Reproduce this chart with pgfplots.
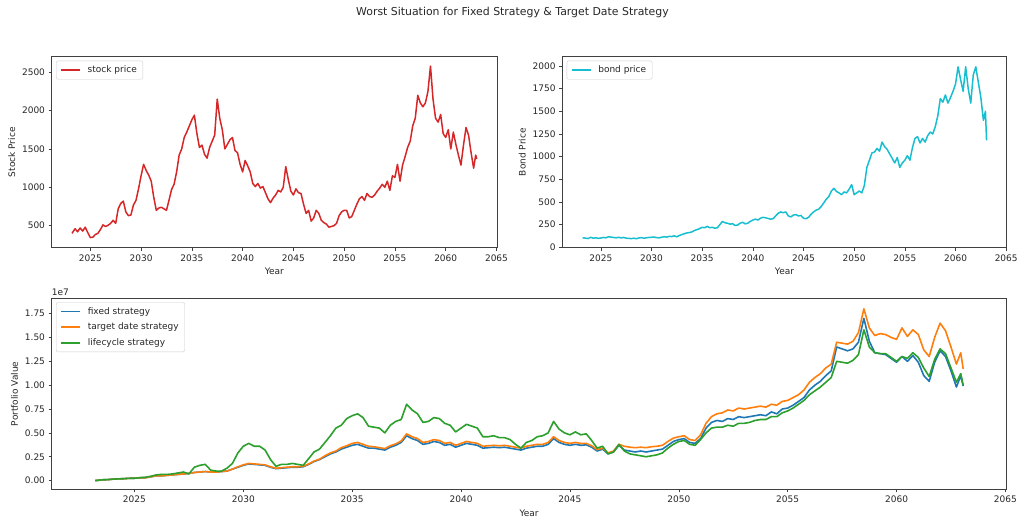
\documentclass[border=0pt]{standalone}
\usepackage{fontspec}
\setmainfont{DejaVu Sans}
\usepackage{pgfplots}
\usepackage{pgfplotstable}
\pgfplotsset{compat=1.18}
\definecolor{tabred}{HTML}{D62728}
\definecolor{tabcyan}{HTML}{17BECF}
\definecolor{tabblue}{HTML}{1F77B4}
\definecolor{taborange}{HTML}{FF7F0E}
\definecolor{tabgreen}{HTML}{2CA02C}

\pgfplotstableread{
year stock bond
2023.20 400 105
2023.50 460 100
2023.75 420 96
2024.00 470 110
2024.25 430 100
2024.50 480 104
2024.75 410 98
2025.00 345 102
2025.25 350 108
2025.50 385 104
2025.75 400 115
2026.00 450 112
2026.25 510 108
2026.50 490 104
2026.75 505 110
2027.00 530 103
2027.25 570 108
2027.50 530 100
2027.75 720 98
2028.00 790 95
2028.25 820 100
2028.50 680 94
2028.75 630 102
2029.00 640 106
2029.25 770 100
2029.50 830 104
2029.75 980 108
2030.00 1150 110
2030.25 1300 113
2030.50 1220 106
2030.75 1160 104
2031.00 1080 110
2031.25 870 116
2031.50 700 112
2031.75 730 120
2032.00 740 118
2032.25 720 126
2032.50 700 115
2032.75 830 130
2033.00 970 140
2033.25 1040 150
2033.50 1200 158
2033.75 1420 162
2034.00 1500 170
2034.25 1650 185
2034.50 1720 195
2034.75 1800 205
2035.00 1880 220
2035.25 1940 215
2035.50 1700 230
2035.75 1520 215
2036.00 1550 220
2036.25 1430 210
2036.50 1380 215
2036.75 1520 250
2037.00 1600 285
2037.25 1680 270
2037.50 2150 265
2037.75 1900 255
2038.00 1750 260
2038.25 1500 240
2038.50 1560 245
2038.75 1620 265
2039.00 1650 275
2039.25 1480 258
2039.50 1450 265
2039.75 1300 285
2040.00 1200 300
2040.25 1350 310
2040.50 1280 300
2040.75 1200 320
2041.00 1050 330
2041.25 1010 325
2041.50 1050 318
2041.75 990 310
2042.00 1010 315
2042.25 930 345
2042.50 850 375
2042.75 800 390
2043.00 860 380
2043.25 900 390
2043.50 960 345
2043.75 940 335
2044.00 1000 355
2044.25 1270 360
2044.50 1100 345
2044.75 950 350
2045.00 900 320
2045.25 980 315
2045.50 930 330
2045.75 920 365
2046.00 780 390
2046.25 660 410
2046.50 700 420
2046.75 560 450
2047.00 600 490
2047.25 700 530
2047.50 660 560
2047.75 570 620
2048.00 540 650
2048.25 520 615
2048.50 480 600
2048.75 490 580
2049.00 500 610
2049.25 530 600
2049.50 630 640
2049.75 680 690
2050.00 700 580
2050.25 700 600
2050.50 600 620
2050.75 620 600
2051.00 700 680
2051.25 780 880
2051.50 850 960
2051.75 880 1040
2052.00 830 1050
2052.25 920 1090
2052.50 880 1060
2052.75 870 1160
2053.00 900 1110
2053.25 950 1080
2053.50 990 1030
2053.75 1040 980
2054.00 1000 930
2054.25 1080 990
2054.50 960 880
2054.75 1150 930
2055.00 1130 960
2055.25 1300 1010
2055.50 1080 960
2055.75 1290 1100
2056.00 1400 1200
2056.25 1520 1220
2056.50 1600 1150
2056.75 1800 1200
2057.00 1900 1160
2057.25 2200 1230
2057.50 2100 1270
2057.75 2050 1250
2058.00 2100 1330
2058.25 2250 1450
2058.50 2580 1640
2058.75 2150 1600
2059.00 1900 1680
2059.25 1850 1590
2059.50 1950 1650
2059.75 1700 1720
2060.00 1650 1800
2060.25 1750 1990
2060.50 1500 1850
2060.75 1720 1720
2061.00 1560 1990
2061.25 1420 1750
2061.50 1290 1590
2061.75 1550 1900
2062.00 1780 1990
2062.25 1680 1820
2062.50 1450 1650
2062.75 1250 1400
2062.95 1420 1500
2063.06 1370 1180
}\pricetab

\pgfplotstableread{
year fixed target life
2023.20 0.000 0.000 0.000
2023.50 0.008 0.008 0.008
2023.75 0.010 0.010 0.010
2024.00 0.015 0.015 0.015
2024.25 0.018 0.018 0.018
2024.50 0.020 0.020 0.020
2024.75 0.024 0.024 0.024
2025.00 0.025 0.025 0.025
2025.25 0.030 0.030 0.030
2025.50 0.030 0.030 0.035
2025.75 0.040 0.040 0.045
2026.00 0.050 0.050 0.060
2026.25 0.050 0.050 0.065
2026.50 0.055 0.055 0.065
2026.75 0.060 0.060 0.070
2027.00 0.065 0.065 0.080
2027.25 0.070 0.070 0.090
2027.50 0.075 0.075 0.070
2027.75 0.085 0.085 0.140
2028.00 0.090 0.090 0.160
2028.25 0.095 0.095 0.170
2028.50 0.090 0.090 0.110
2028.75 0.090 0.090 0.100
2029.00 0.095 0.095 0.100
2029.25 0.100 0.100 0.130
2029.50 0.120 0.120 0.180
2029.75 0.140 0.145 0.290
2030.00 0.160 0.165 0.360
2030.25 0.175 0.180 0.390
2030.50 0.170 0.175 0.360
2030.75 0.165 0.170 0.360
2031.00 0.160 0.165 0.320
2031.25 0.140 0.145 0.220
2031.50 0.125 0.130 0.150
2031.75 0.130 0.135 0.170
2032.00 0.135 0.140 0.170
2032.25 0.140 0.145 0.180
2032.50 0.140 0.145 0.170
2032.75 0.145 0.150 0.160
2033.00 0.170 0.175 0.230
2033.25 0.200 0.205 0.300
2033.50 0.220 0.225 0.330
2033.75 0.250 0.260 0.400
2034.00 0.280 0.290 0.470
2034.25 0.300 0.310 0.550
2034.50 0.330 0.345 0.580
2034.75 0.350 0.365 0.650
2035.00 0.370 0.390 0.680
2035.25 0.380 0.400 0.700
2035.50 0.360 0.380 0.660
2035.75 0.340 0.360 0.570
2036.00 0.340 0.355 0.560
2036.25 0.330 0.345 0.550
2036.50 0.320 0.335 0.500
2036.75 0.350 0.365 0.580
2037.00 0.370 0.385 0.620
2037.25 0.400 0.415 0.640
2037.50 0.470 0.490 0.800
2037.75 0.440 0.460 0.740
2038.00 0.420 0.440 0.700
2038.25 0.380 0.400 0.610
2038.50 0.390 0.410 0.620
2038.75 0.410 0.430 0.660
2039.00 0.400 0.420 0.650
2039.25 0.370 0.390 0.600
2039.50 0.380 0.400 0.580
2039.75 0.350 0.370 0.510
2040.00 0.370 0.390 0.550
2040.25 0.390 0.410 0.590
2040.50 0.380 0.400 0.570
2040.75 0.370 0.390 0.550
2041.00 0.340 0.360 0.460
2041.25 0.345 0.365 0.460
2041.50 0.350 0.370 0.470
2041.75 0.345 0.365 0.450
2042.00 0.350 0.370 0.450
2042.25 0.340 0.360 0.430
2042.50 0.330 0.350 0.380
2042.75 0.320 0.340 0.340
2043.00 0.340 0.360 0.400
2043.25 0.350 0.370 0.420
2043.50 0.360 0.380 0.460
2043.75 0.360 0.380 0.470
2044.00 0.380 0.400 0.500
2044.25 0.440 0.460 0.620
2044.50 0.400 0.420 0.540
2044.75 0.380 0.400 0.500
2045.00 0.370 0.390 0.480
2045.25 0.380 0.400 0.510
2045.50 0.370 0.390 0.480
2045.75 0.375 0.390 0.490
2046.00 0.350 0.365 0.420
2046.25 0.310 0.325 0.340
2046.50 0.330 0.340 0.360
2046.75 0.280 0.290 0.280
2047.00 0.300 0.310 0.300
2047.25 0.370 0.380 0.380
2047.50 0.320 0.360 0.310
2047.75 0.310 0.350 0.280
2048.00 0.300 0.345 0.270
2048.25 0.310 0.350 0.260
2048.50 0.300 0.345 0.250
2048.75 0.310 0.355 0.260
2049.00 0.320 0.360 0.270
2049.25 0.330 0.370 0.290
2049.50 0.370 0.410 0.340
2049.75 0.410 0.445 0.380
2050.00 0.430 0.460 0.410
2050.25 0.440 0.470 0.420
2050.50 0.400 0.430 0.380
2050.75 0.390 0.420 0.370
2051.00 0.440 0.480 0.430
2051.25 0.550 0.600 0.500
2051.50 0.610 0.670 0.550
2051.75 0.630 0.700 0.560
2052.00 0.620 0.710 0.560
2052.25 0.650 0.740 0.580
2052.50 0.640 0.730 0.570
2052.75 0.670 0.760 0.600
2053.00 0.660 0.750 0.600
2053.25 0.670 0.760 0.610
2053.50 0.680 0.770 0.630
2053.75 0.690 0.780 0.640
2054.00 0.680 0.770 0.640
2054.25 0.720 0.800 0.670
2054.50 0.700 0.790 0.670
2054.75 0.750 0.830 0.710
2055.00 0.760 0.840 0.730
2055.25 0.790 0.870 0.760
2055.50 0.830 0.900 0.800
2055.75 0.870 0.950 0.840
2056.00 0.950 1.030 0.900
2056.25 1.000 1.080 0.940
2056.50 1.040 1.120 0.980
2056.75 1.100 1.180 1.030
2057.00 1.150 1.220 1.080
2057.25 1.400 1.450 1.250
2057.50 1.380 1.440 1.240
2057.75 1.360 1.430 1.230
2058.00 1.380 1.460 1.260
2058.25 1.450 1.550 1.320
2058.50 1.700 1.800 1.580
2058.75 1.460 1.600 1.400
2059.00 1.340 1.520 1.340
2059.25 1.330 1.540 1.330
2059.50 1.320 1.530 1.330
2059.75 1.280 1.500 1.290
2060.00 1.240 1.480 1.250
2060.25 1.300 1.600 1.300
2060.50 1.250 1.510 1.280
2060.75 1.310 1.580 1.340
2061.00 1.240 1.530 1.290
2061.25 1.100 1.370 1.180
2061.50 1.040 1.300 1.090
2061.75 1.240 1.500 1.270
2062.00 1.360 1.650 1.380
2062.25 1.300 1.570 1.330
2062.50 1.150 1.400 1.180
2062.75 0.980 1.220 1.030
2062.95 1.100 1.340 1.120
2063.06 0.990 1.170 1.000
}\porttab

\pgfplotsset{
  mplstyle/.style={
    scale only axis,
    anchor=south west,
    xmin=2021.2, xmax=2065.05,
    xtick={2025,2030,...,2065},
    tick pos=left,
    tick align=outside,
    major tick length=3.2pt,
    every tick/.style={black!75, line width=0.6pt},
    axis line style={black!75, line width=0.7pt},
    tick label style={font=\fontsize{9}{10}\selectfont, text=black!85},
    label style={font=\fontsize{9}{10}\selectfont, text=black!85},
    /pgf/number format/assume math mode=true,
    /pgf/number format/1000 sep={},
    legend cell align=left,
    legend style={at={(0,1)}, anchor=north west, xshift=4.3pt, yshift=-4pt,
      draw=black!20, rounded corners=2pt, fill=white, fill opacity=0.8,
      text opacity=1, font=\fontsize{9}{10}\selectfont, text=black!85,
      inner xsep=4pt, inner ysep=3pt, row sep=3.2pt},
    legend image code/.code={\draw[##1] (0pt,0pt) -- (19pt,0pt); \path (24pt,0pt);},
  }
}

\begin{document}
\begin{tikzpicture}[x=1pt,y=1pt]
\useasboundingbox (0,0) rectangle (1024,526);
\node[font=\fontsize{10.9}{12}\selectfont, text=black!85] at (512.5,513) {Worst Situation for Fixed Strategy \& Target Date Strategy};

\begin{axis}[mplstyle, at={(51.7pt,278.3pt)}, width=445.3pt, height=191pt,
  ymin=213, ymax=2703, ytick={500,1000,...,2500},
  xlabel={Year}, ylabel={Stock Price}]
\addplot[tabred, line width=1.5pt, line join=round] table[x=year, y=stock] {\pricetab};
\addlegendentry{stock price}
\end{axis}

\begin{axis}[mplstyle, at={(562.3pt,278.3pt)}, width=444.4pt, height=191pt,
  ymin=-5, ymax=2102, ytick={0,250,...,2000},
  xlabel={Year}, ylabel={Bond Price}]
\addplot[tabcyan, line width=1.5pt, line join=round] table[x=year, y=bond] {\pricetab};
\addlegendentry{bond price}
\end{axis}

\begin{axis}[mplstyle, name=bot, at={(51.7pt,36.7pt)}, width=954.8pt, height=191pt,
  ymin=-0.091, ymax=1.91, ytick={0,0.25,...,1.75},
  yticklabel style={/pgf/number format/.cd, fixed, fixed zerofill, precision=2},
  xlabel={Year}, ylabel={Portfolio Value}]
\addplot[tabblue, line width=1.6pt, line join=round] table[x=year, y=fixed] {\porttab};
\addlegendentry{fixed strategy}
\addplot[taborange, line width=1.6pt, line join=round] table[x=year, y=target] {\porttab};
\addlegendentry{target date strategy}
\addplot[tabgreen, line width=1.6pt, line join=round] table[x=year, y=life] {\porttab};
\addlegendentry{lifecycle strategy}
\end{axis}
\node[anchor=south west, inner sep=0pt, font=\fontsize{9}{10}\selectfont, text=black!85] at ([yshift=2.5pt]bot.north west) {1e7};
\end{tikzpicture}
\end{document}
